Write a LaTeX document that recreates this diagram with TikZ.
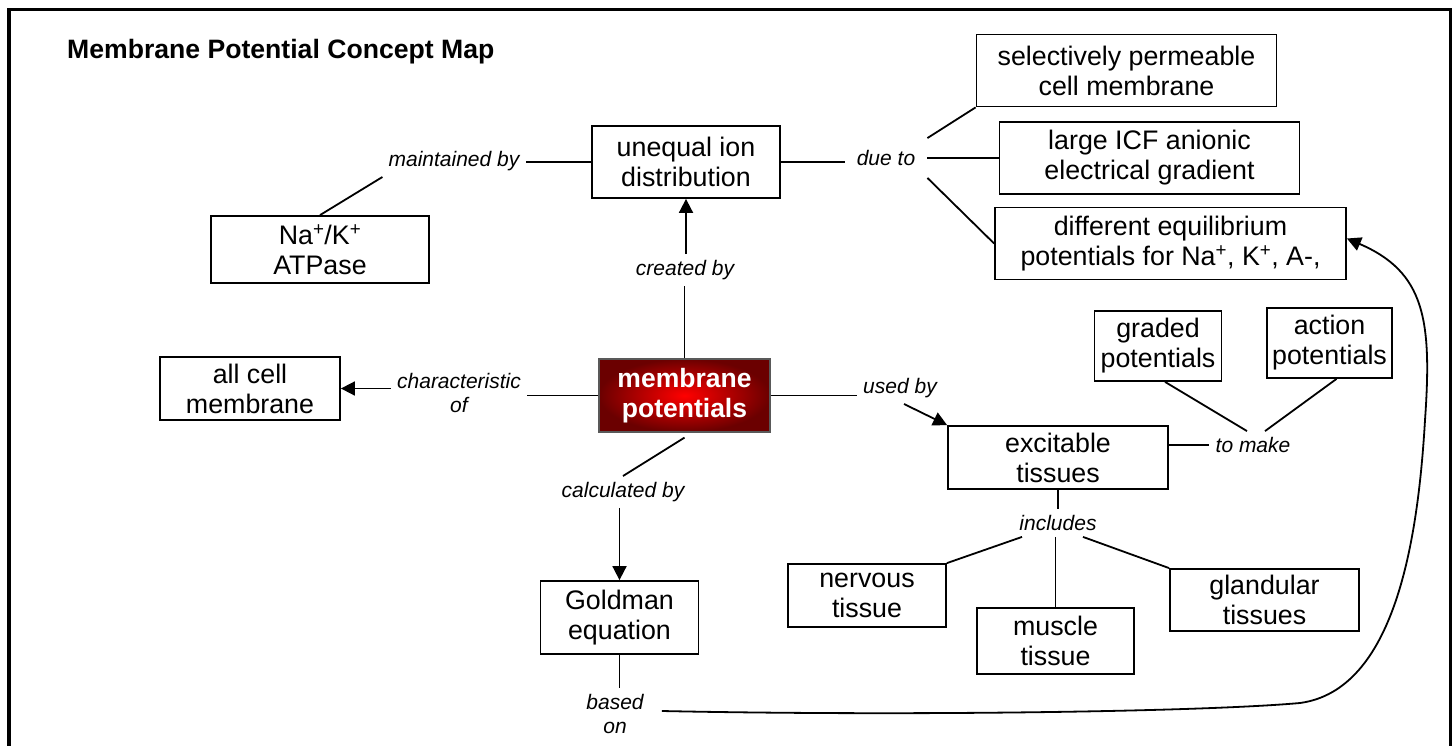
\documentclass[tikz,border=0pt]{standalone}
\usepackage{fontspec}
\setmainfont{Liberation Sans}
\usetikzlibrary{arrows.meta,calc}
\begin{document}
\begin{tikzpicture}[x=1pt,y=-1pt,
  box/.style={draw,line width=1.8pt,inner sep=0pt,align=center,font=\fontsize{26.8}{30}\selectfont},
  mpbox/.style={draw=black!65,line width=1.2pt,inner sep=0pt,align=center,text=white,
    font=\fontsize{26.5}{30}\selectfont\bfseries,inner color=red,outer color=red!42!black},
  lbl/.style={inner sep=6pt,align=center,font=\fontsize{21}{24}\selectfont\itshape},
  conn/.style={line width=1.8pt},
  arr/.style={line width=1.8pt,-{Triangle[length=14pt,width=14pt]}},
  frame/.style={line width=3.8pt,line join=miter}
]
\useasboundingbox (0,0) rectangle (1455,746);
\fill[white] (0,0) rectangle (1455,746);
\draw[frame] (9,746) -- (9,9.5) -- (1450.5,9.5) -- (1450.5,746);

\node[anchor=west,inner sep=0pt,font=\fontsize{26.6}{30}\selectfont\bfseries] (title) at (67,52) {Membrane Potential Concept Map};

% concept boxes
\node[box,minimum width=188,minimum height=72] (ueq) at (686,162) {unequal ion\\distribution};
\node[box,minimum width=218,minimum height=67] (natp) at (320,249.5) {Na\textsuperscript{+}/K\textsuperscript{+}\\ATPase};
\node[box,minimum width=300,minimum height=72] (sel) at (1126.5,70.5) {selectively permeable\\cell membrane};
\node[box,minimum width=300,minimum height=72] (icf) at (1149.5,158) {large ICF anionic\\electrical gradient};
\node[box,minimum width=351,minimum height=72] (deq) at (1170.5,243.5) {different equilibrium\\potentials for Na\textsuperscript{+}, K\textsuperscript{+}, A-,};
\node[box,minimum width=180,minimum height=63] (acm) at (250,388.5) {all cell\\membrane};
\node[mpbox,minimum width=171,minimum height=73] (mp) at (684.5,395.5) {membrane\\potentials};
\node[box,minimum width=220,minimum height=63] (exc) at (1058,457.5) {excitable\\tissues};
\node[box,minimum width=127,minimum height=70] (grad) at (1158,346) {graded\\potentials};
\node[box,minimum width=125,minimum height=70] (act) at (1329.5,343) {action\\potentials};
\node[box,minimum width=158,minimum height=73] (gold) at (619.5,617.5) {Goldman\\equation};
\node[box,minimum width=158,minimum height=63] (nerv) at (867,595.5) {nervous\\tissue};
\node[box,minimum width=157,minimum height=66] (mus) at (1055.5,641) {muscle\\tissue};
\node[box,minimum width=189,minimum height=62] (gland) at (1264.5,600) {glandular\\tissues};

% linking phrases
\node[lbl] (maint) at (454,161) {maintained by};
\node[lbl,inner sep=12pt] (due) at (886,158) {due to};
\node[lbl] (created) at (685,270) {created by};
\node[lbl] (char) at (459,393) {characteristic\\of};
\node[lbl] (used) at (900,388) {used by};
\node[lbl] (calc) at (623,492) {calculated by};
\node[lbl] (tomake) at (1253,445) {to make};
\node[lbl] (incl) at (1058,523) {includes};
\node[lbl] (based) at (615,714) {based\\on};

% connectors
\draw[conn] (ueq.west) -- (maint.east |- ueq.west);
\draw[conn] (natp.north) -- (maint.south west);
\draw[conn] (ueq.east) -- (due.west |- ueq.east);
\draw[conn] (due.north east) -- (sel.south west);
\draw[conn] (due.east |- icf.west) -- (icf.west);
\draw[conn] (due.south east) -- (deq.west);

\draw[conn] (mp.north) -- (mp.north |- created.south);
\draw[arr] (ueq.south |- created.north) -- (ueq.south);

\draw[conn] (mp.west) -- (char.east |- mp.west);
\draw[arr] (char.west |- acm.east) -- (acm.east);

\draw[conn] (mp.east) -- (used.west |- mp.east);
\draw[arr] ([xshift=4pt]used.south) -- (exc.north west);

\draw[conn] ([yshift=-5pt]mp.south) -- (calc.north);
\draw[arr] (gold.north |- calc.south) -- (gold.north);

\draw[conn] (exc.east |- tomake.west) -- (tomake.west);
\draw[conn] ([xshift=-6pt]tomake.north) -- ([xshift=7pt]grad.south);
\draw[conn] ([xshift=12pt]tomake.north) -- ([xshift=7pt]act.south);

\draw[conn] (exc.south) -- (incl.north);
\draw[conn] ([xshift=-36pt]incl.south) -- (nerv.north east);
\draw[conn] (mus.north |- incl.south) -- (mus.north);
\draw[conn] ([xshift=25pt]incl.south) -- (gland.north west);

\draw[conn] (gold.south) -- (gold.south |- based.north);
\draw[arr] ([xshift=12pt,yshift=3pt]based.east) .. controls (900,716) and (1200,712) .. (1300,703)
  .. controls (1395,690) and (1418,540) .. (1425,420)
  .. controls (1432,320) and (1425,272) .. ([yshift=5pt]deq.east);
\end{tikzpicture}
\end{document}
